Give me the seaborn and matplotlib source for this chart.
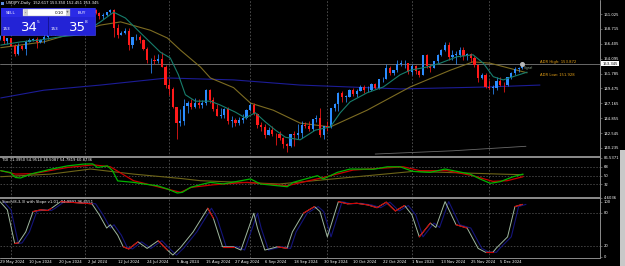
import numpy as np
import pandas as pd
import matplotlib
matplotlib.use("Agg")
import matplotlib.pyplot as plt
import seaborn as sns
from matplotlib.patches import Rectangle, Circle

# ---------------- data ----------------
date_labels = ["29 May 2024", "10 Jun 2024", "20 Jun 2024", "2 Jul 2024", "12 Jul 2024",
               "24 Jul 2024", "5 Aug 2024", "15 Aug 2024", "27 Aug 2024", "6 Sep 2024",
               "18 Sep 2024", "30 Sep 2024", "10 Oct 2024", "22 Oct 2024", "1 Nov 2024",
               "13 Nov 2024", "25 Nov 2024", "5 Dec 2024"]
date_bars = [2, 10, 18, 26, 34, 42, 50, 58, 66, 74, 82, 90, 98, 106, 114, 122, 130, 138]
month_sep_bars = [5, 25, 48, 70, 91, 114, 135]

open_ = [156.94, 156.87, 157.15, 157.63, 156.81, 157.26, 156.10, 154.78, 156.07, 155.62,
         156.74, 157.04, 157.17, 156.69, 157.05, 157.39, 157.73, 157.86, 158.09, 158.88,
         159.78, 159.70, 159.70, 160.77, 160.74, 160.88, 161.47, 161.45, 161.71, 161.23,
         160.73, 160.83, 161.32, 161.64, 158.81, 157.84, 158.08, 158.34, 156.18, 157.38,
         157.47, 156.97, 155.63, 153.87, 153.96, 153.77, 154.01, 152.74, 149.98, 149.35,
         146.53, 144.18, 144.40, 146.71, 147.28, 146.59, 147.19, 146.85, 147.27, 149.31,
         147.61, 146.34, 145.23, 145.28, 146.24, 144.35, 144.54, 144.08, 144.60, 144.95,
         146.17, 146.95, 145.46, 143.74, 143.42, 142.30, 143.10, 142.41, 142.40, 141.82,
         140.86, 140.60, 142.40, 142.30, 142.61, 143.88, 143.62, 143.22, 144.80, 144.82,
         142.19, 143.63, 143.53, 146.42, 146.99, 148.70, 148.19, 148.20, 149.31, 148.59,
         149.14, 149.75, 149.18, 149.23, 150.10, 149.53, 150.87, 151.00, 152.72, 151.83,
         152.28, 153.33, 153.35, 153.37, 152.03, 152.97, 152.15, 151.61, 154.64, 152.95,
         152.63, 153.73, 154.63, 155.47, 156.27, 154.30, 154.67, 154.69, 155.43, 154.53,
         154.79, 154.19, 153.06, 151.10, 151.62, 149.77, 149.58, 149.60, 150.56, 150.04,
         149.98, 151.19, 151.94, 152.46, 152.617]
high = [157.08, 157.25, 157.71, 157.69, 157.30, 157.30, 156.40, 156.45, 156.20, 157.00,
        157.30, 157.35, 157.45, 157.20, 158.25, 157.80, 158.00, 158.15, 158.90, 159.85,
        159.95, 159.85, 160.85, 160.88, 161.28, 161.70, 161.75, 161.95, 161.80, 161.30,
        161.20, 161.40, 161.80, 161.78, 159.45, 158.40, 158.85, 158.85, 157.50, 157.85,
        157.80, 157.20, 155.90, 154.20, 154.60, 154.75, 155.20, 153.05, 150.90, 149.75,
        146.60, 146.30, 147.90, 147.50, 147.80, 148.00, 147.80, 147.70, 149.40, 149.40,
        148.15, 147.00, 146.40, 146.50, 146.60, 145.20, 144.90, 145.00, 145.55, 146.25,
        147.20, 147.20, 145.60, 144.20, 144.00, 143.50, 143.60, 142.60, 142.80, 142.00,
        141.00, 142.40, 142.80, 143.95, 144.50, 144.20, 144.40, 144.80, 145.35, 146.50,
        143.20, 144.50, 146.50, 147.20, 149.00, 149.10, 148.40, 149.40, 149.55, 149.40,
        149.98, 149.95, 149.80, 150.30, 150.30, 150.95, 151.30, 153.20, 152.90, 152.40,
        153.90, 153.90, 153.85, 153.45, 153.20, 153.10, 152.40, 154.70, 154.75, 153.30,
        153.80, 154.75, 155.60, 156.70, 156.75, 155.40, 155.30, 155.90, 155.90, 155.00,
        154.95, 154.45, 153.15, 151.90, 151.90, 150.75, 150.00, 151.25, 151.20, 150.50,
        151.30, 152.00, 152.75, 152.80, 153.350]
low = [156.55, 156.70, 157.00, 156.37, 156.30, 156.00, 154.55, 154.70, 155.45, 154.60,
       156.70, 156.80, 155.72, 156.50, 156.60, 157.10, 157.70, 157.80, 158.00, 158.70,
       159.20, 159.40, 159.70, 160.30, 160.50, 160.80, 161.30, 161.20, 161.10, 160.25,
       160.25, 160.70, 161.20, 157.40, 157.25, 157.70, 157.85, 155.37, 155.70, 157.00,
       156.60, 155.50, 153.50, 151.94, 153.30, 153.40, 152.80, 149.60, 148.50, 146.45,
       141.68, 143.60, 143.80, 145.60, 146.30, 146.50, 146.50, 146.40, 146.90, 147.20,
       145.95, 145.20, 144.90, 144.95, 144.00, 143.45, 143.65, 143.85, 144.10, 144.70,
       146.00, 145.40, 143.40, 142.90, 141.75, 142.20, 142.10, 140.70, 141.50, 140.30,
       139.58, 140.40, 140.50, 141.60, 141.75, 143.30, 142.90, 142.95, 144.30, 142.00,
       141.65, 142.95, 143.40, 145.90, 145.90, 147.40, 147.35, 148.10, 148.30, 148.10,
       149.05, 148.80, 148.90, 149.10, 149.40, 149.40, 150.40, 150.90, 151.60, 151.50,
       152.10, 152.90, 152.60, 151.75, 151.50, 151.70, 151.30, 151.60, 152.60, 152.10,
       152.60, 153.50, 154.50, 155.30, 153.85, 153.90, 153.30, 154.40, 153.90, 153.90,
       153.55, 152.80, 150.45, 151.00, 149.50, 149.45, 148.65, 149.30, 149.90, 148.95,
       149.85, 151.00, 151.55, 152.10, 152.451]
close = [156.87, 157.15, 157.63, 156.81, 157.26, 156.10, 154.78, 156.07, 155.62, 156.74,
         157.04, 157.17, 156.69, 157.05, 157.39, 157.73, 157.86, 158.09, 158.88, 159.78,
         159.70, 159.70, 160.77, 160.74, 160.88, 161.47, 161.45, 161.71, 161.23, 160.73,
         160.83, 161.32, 161.64, 158.81, 157.84, 158.08, 158.34, 156.18, 157.38, 157.47,
         156.97, 155.63, 153.87, 153.96, 153.77, 154.01, 152.74, 149.98, 149.35, 146.53,
         144.18, 144.40, 146.71, 147.28, 146.59, 147.19, 146.85, 147.27, 149.31, 147.61,
         146.34, 145.23, 145.28, 146.24, 144.35, 144.54, 144.08, 144.60, 144.95, 146.17,
         146.95, 145.46, 143.74, 143.42, 142.30, 143.10, 142.41, 142.40, 141.82, 140.86,
         140.60, 142.40, 142.30, 142.61, 143.88, 143.62, 143.22, 144.80, 144.82, 142.19,
         143.63, 143.53, 146.42, 146.99, 148.70, 148.19, 148.20, 149.31, 148.59, 149.14,
         149.75, 149.18, 149.23, 150.10, 149.53, 150.87, 151.00, 152.72, 151.83, 152.28,
         153.33, 153.35, 153.37, 152.03, 152.97, 152.15, 151.61, 154.64, 152.95, 152.63,
         153.73, 154.63, 155.47, 156.27, 154.30, 154.67, 154.69, 155.43, 154.53, 154.79,
         154.19, 153.06, 151.10, 151.62, 149.77, 149.58, 149.60, 150.56, 150.04, 149.98,
         151.19, 151.94, 152.46, 152.61, 153.345]

# moving averages (bar position, price)
fast_ma_bars = [2.2, 7.6, 13, 18.5, 23.9, 29.3, 32.9, 36.1, 40.2, 45.6, 48.3, 50.5, 52.4, 55.1,
                59.2, 61.9, 66, 68.7, 71.4, 74.1, 76.9, 79.6, 83.6, 87.7, 91.8, 94.5, 97.2,
                101.8, 106.2, 110.8, 113.5, 118.1, 121.7, 126.3, 130.6, 133.4, 136.1, 138.8,
                141.5, 145.3]
fast_ma = [156.2, 156.7, 157.0, 157.5, 157.8, 159.8, 161.3, 160.4, 158.1, 155.1, 154.2, 151.6,
           148.5, 147.5, 147.5, 146.9, 145.8, 144.9, 145.7, 144.3, 143.0, 141.9, 141.5, 143.0,
           143.5, 145.7, 147.4, 148.8, 149.7, 151.6, 152.3, 152.8, 153.4, 154.4, 154.7, 153.4,
           151.3, 150.8, 151.3, 152.0]
mid_ma_bars = [2.2, 13.9, 24.7, 29.3, 34.8, 42.9, 47.5, 51.1, 56.5, 59.2, 65.5, 70.1, 76.3,
               83.6, 91.8, 101.8, 113.5, 124.4, 130.6, 135.2, 139.9, 145.3]
mid_ma = [155.8, 156.7, 158.5, 159.3, 159.8, 158.5, 157.3, 155.4, 152.8, 151.1, 149.6, 147.2,
          146.1, 144.1, 143.5, 146.1, 149.7, 152.3, 153.6, 153.4, 152.7, 151.9]
slow_ma_bars = [2.2, 13.9, 29.3, 47.5, 65.5, 83.6, 110.8, 134.4, 148.8]
slow_ma = [148.0, 149.2, 150.0, 151.1, 150.8, 150.0, 149.4, 149.7, 150.0]
low_line_bars = [104, 125, 145]
low_line = [139.3, 139.8, 140.5]

price_ticks = [161.025, 158.715, 156.405, 154.095, 151.785, 149.475, 147.165, 144.855,
               142.545, 140.235]
bid = 153.345
adr_high = 153.872
adr_low = 151.928

# TDI
tdi_green_bars = [2.2, 4.9, 6.2, 7.6, 10.3, 15.8, 20.4, 24.7, 27.2, 28.5, 31.2, 32.6, 34, 38.3,
                  41, 44.8, 47.5, 50.2, 51.6, 53.8, 57.3, 59.2, 62.7, 70.1, 72.8, 80.1, 81.7,
                  88.3, 89.9, 93.7, 97.2, 103.5, 107.3, 110.8, 114.3, 118.9, 123, 126.3, 129.8,
                  132.5, 135.3, 138, 141.5, 144.2]
tdi_green = [60, 56, 46, 45, 53, 63, 70, 73.6, 74, 66.7, 70, 60, 39, 36, 32.7, 29, 22.4, 14,
             15.5, 25.7, 32.7, 36, 32.7, 43, 32.7, 27, 36, 49.7, 43, 56.5, 63.4, 63, 68, 68,
             58.5, 56.5, 63.4, 58.5, 53, 43, 34, 37.4, 47.6, 53]
tdi_red_bars = [2.2, 6.2, 11.1, 20.4, 27.4, 32, 38.3, 47.5, 51.1, 54, 60, 69.2, 80, 89.9, 98,
                111.6, 116.2, 123.6, 130.6, 136, 139.9, 144.2]
tdi_red = [60, 53, 54, 66.7, 72, 68, 39.4, 22, 15.5, 25.7, 31, 36, 29, 46, 61.3, 68, 60, 60,
           49.7, 38, 39.4, 47.6]
tdi_base_bars = [2.2, 15.8, 26.6, 38.3, 51.1, 56.5, 78, 114.3, 138, 144.2]
tdi_base = [47.6, 53, 63.4, 53, 44, 39.4, 32.7, 58.5, 53, 51.7]
tdi_levels = [68, 50, 32]
tdi_range = (4.6036, 86.5371)

# Stochastic
stoch_bars = [2, 4, 6, 7, 9, 11, 13, 15, 16, 18.5, 25, 27, 29, 31, 32, 34, 35.5, 37, 39.5, 42,
              45, 47.5, 49, 51, 54.5, 58.5, 60, 62.5, 65.5, 67.5, 71, 72, 74, 77.5, 80, 81.5,
              84.5, 87.5, 89, 91, 94, 96.5, 99, 102, 104.5, 107, 109.5, 112, 114, 116, 119,
              120.5, 123, 126, 129, 132, 134, 136, 137, 140, 142, 144]
stoch_main = [100, 85, 24, 25, 45, 82, 85, 84, 88, 100, 97, 96, 76, 52, 58, 39, 18, 14, 27, 15,
              29, 12, 3, 16, 45, 88, 70, 18, 18, 12, 79, 52, 12, 18, 15, 45, 79, 91, 82, 36,
              100, 96, 97, 94, 89, 99, 83, 93, 76, 36, 61, 53, 100, 58, 52, 15, 8, 8, 16, 36,
              91, 95]
stoch_red_seg = [0, 0, 1, 0, 0, 1, 1, 1, 0, 1, 1, 0, 0, 0, 0, 0, 1, 1, 0, 0,
                 1, 0, 0, 0, 0, 1, 0, 1, 0, 0, 0, 0, 0, 1, 0, 0, 1, 0, 0, 0,
                 1, 1, 1, 1, 1, 1, 1, 0, 0, 1, 0, 0, 0, 1, 0, 0, 1, 0, 0, 0,
                 1, 0]
stoch_levels = [80, 20]
stoch_ticks = [100, 80, 20, 0]

# ---------------- style ----------------
sns.set_style("dark", {"axes.facecolor": "black", "figure.facecolor": "black"})
plt.rcParams['font.family'] = ['DejaVu Sans']

W, H = 625, 266
BULL, BEAR = "#2b8cff", "#ff1a1a"
GRIDC = "#5c5c5c"
SEPC = "#8c8c8c"
FS = 2.7

fig = plt.figure(figsize=(W / 100, H / 100), dpi=100, facecolor="black")


def box(top, bottom):
    return [0, 1 - bottom / H, 600 / W, (bottom - top) / H]


ax = fig.add_axes(box(0, 156.5))
ax2 = fig.add_axes(box(157.8, 197.6), sharex=ax)
ax3 = fig.add_axes(box(199.2, 257.5), sharex=ax)

x0_bar = (0 + 8) / 3.682
x1_bar = (600 + 8) / 3.682
for a in (ax, ax2, ax3):
    a.set_facecolor("black")
    a.grid(False)
    for s in a.spines.values():
        s.set_visible(False)
    a.tick_params(axis="x", bottom=False, labelbottom=False)
    a.yaxis.tick_right()
    a.tick_params(axis="y", right=True, length=1.5, width=0.4, color="#9a9a9a",
                  labelsize=FS, labelcolor="white", pad=1.2)
    for b in month_sep_bars:
        a.axvline(b, color=GRIDC, lw=0.55, ls=(0, (2.2, 2.2)), zorder=0)

ax.set_xlim(x0_bar, x1_bar)

# ---- main price panel ----
o = np.array(open_); h = np.array(high); l = np.array(low); c = np.array(close)
idx = np.arange(len(c))
up = c >= o
cols = np.where(up, BULL, BEAR)
ax.set_ylim(161.025 - (156.5 - 14) * 0.15515, 161.025 + 14 * 0.15515)
ax.axhline(bid, color="#7a7a7a", lw=0.6, zorder=1)
ax.vlines(idx, l, h, colors=cols, lw=0.55, zorder=3)
body = np.maximum(np.abs(c - o), 0.08)
ax.bar(idx, body, bottom=np.minimum(o, c), width=0.6, color=cols, linewidth=0, zorder=4)

sns.lineplot(x=slow_ma_bars, y=slow_ma, ax=ax, color="#1c1c96", lw=0.8, legend=False, zorder=2)
sns.lineplot(x=mid_ma_bars, y=mid_ma, ax=ax, color="#7d6c22", lw=0.8, legend=False, zorder=2)
sns.lineplot(x=fast_ma_bars, y=fast_ma, ax=ax, color="#177d6c", lw=0.8, legend=False, zorder=5)
sns.lineplot(x=low_line_bars, y=low_line, ax=ax, color="#6a6a6a", lw=0.6, legend=False, zorder=2)
ax.set_yticks(price_ticks)
ax.set_yticklabels([f"{v:.3f}" for v in price_ticks])
ax.set_ylabel(""); ax.set_xlabel("")

# last price marker + ADR labels
ax.plot([len(c) - 1], [bid], marker="o", ms=2.6, color="#b8b8b8", zorder=6)
ax.text(len(c) - 0.6, bid - 0.7, "Signal", color="#8fa88f", fontsize=2.2, va="center", ha="left")
ax.text(148.8, adr_high, f"ADR High: {adr_high:.3f}", color="#e8a317", fontsize=FS,
        va="top", ha="left")
ax.text(148.8, adr_low, f"ADR Low: {adr_low:.3f}", color="#e8a317", fontsize=FS,
        va="top", ha="left")
ax.text(x1_bar + 0.6, bid, f"{bid:.3f}", fontsize=FS, color="black", va="center", ha="left",
        bbox=dict(boxstyle="square,pad=0.25", fc="white", ec="none"), clip_on=False, zorder=10)

# ---- TDI panel ----
ax2.set_ylim(*tdi_range)
for lv in tdi_levels:
    ax2.axhline(lv, color=GRIDC, lw=0.5, ls=(0, (2.2, 2.2)), zorder=0)
sns.lineplot(x=tdi_base_bars, y=tdi_base, ax=ax2, color="#6e6518", lw=0.8, legend=False)
sns.lineplot(x=tdi_red_bars, y=tdi_red, ax=ax2, color="#c80000", lw=0.9, legend=False)
sns.lineplot(x=tdi_green_bars, y=tdi_green, ax=ax2, color="#00b400", lw=0.9, legend=False)
ax2.set_yticks([tdi_range[1]] + tdi_levels + [tdi_range[0]])
ax2.set_yticklabels([f"{tdi_range[1]:.4f}", "68", "50", "32", f"{tdi_range[0]:.4f}"])
ax2.set_ylabel(""); ax2.set_xlabel("")
ax2.text(0.004, 0.985, "TDI 71.3950 54.9514 38.5087 54.7819 60.8736", transform=ax2.transAxes,
         color="white", fontsize=FS, va="top", ha="left")

# ---- Stochastic panel ----
ax3.set_ylim(-1.5, 104.4)
for lv in stoch_levels:
    ax3.axhline(lv, color=GRIDC, lw=0.5, ls=(0, (2.2, 2.2)), zorder=0)
sb = np.array(stoch_bars, dtype=float); sv = np.array(stoch_main, dtype=float)
sns.lineplot(x=sb + 1.0, y=sv, ax=ax3, color="#14147a", lw=0.8, legend=False, zorder=2)
sns.lineplot(x=sb, y=sv, ax=ax3, color="#9fb89f", lw=0.7, legend=False, zorder=3)
for k, r in enumerate(stoch_red_seg[:-1]):
    if r:
        ax3.plot(sb[k:k + 2], sv[k:k + 2], color="#d00000", lw=0.8, zorder=4)
ax3.set_yticks(stoch_ticks)
ax3.set_yticklabels([str(t) for t in stoch_ticks])
ax3.set_ylabel(""); ax3.set_xlabel("")
ax3.text(0.004, 0.985, "Stoch(8,3,3) with Slope v1.01  94.9992 96.6551", transform=ax3.transAxes,
         color="white", fontsize=FS, va="top", ha="left")

# date labels under the last panel
ax3.set_xticks(date_bars)
ax3.set_xticklabels(date_labels)
ax3.tick_params(axis="x", bottom=False, labelbottom=True, length=0,
                labelsize=FS, labelcolor="white", pad=2.0)
for t in ax3.get_xticklabels():
    t.set_horizontalalignment("left")

# ---------------- overlay (frame, separators, trade panel) ----------------
ov = fig.add_axes([0, 0, 1, 1], zorder=20)
ov.set_xlim(0, W); ov.set_ylim(H, 0); ov.axis("off"); ov.patch.set_alpha(0)
ov.plot([0, 600], [157.1, 157.1], color=SEPC, lw=1.4)
ov.plot([0, 600], [198.4, 198.4], color=SEPC, lw=1.4)
ov.plot([0, 600], [257.9, 257.9], color=SEPC, lw=0.7)
ov.plot([600, 600], [0, 257.9], color=SEPC, lw=0.7)
ov.add_patch(Rectangle((620, 150), 5, 116, fc="#c8c8c8", ec="none"))

# title
ov.add_patch(Rectangle((1, 1.5), 3, 3, fc="#5a8ad8", ec="none"))
ov.text(5.5, 3.2, "USDJPY,Daily  152.617 153.350 152.451 153.345", color="white",
        fontsize=FS, va="center", ha="left")

# one-click trading panel
ov.add_patch(Rectangle((1, 8), 94, 27, fc="#2323d6", ec="#4848ff", lw=0.4))
ov.add_patch(Rectangle((1, 8), 94, 9, fc="#2a2ae6", ec="none"))
ov.plot([47.5, 47.5], [17, 35], color="#12128c", lw=0.6)
ov.add_patch(Rectangle((23, 8.6), 47, 7.6, fc="white", ec="#9a9a9a", lw=0.3))
ov.add_patch(Rectangle((23.5, 9.1), 4, 6.6, fc="#d0d0d0", ec="none"))
ov.add_patch(Rectangle((65.5, 9.1), 4, 6.6, fc="#d0d0d0", ec="none"))
ov.text(25.5, 12.4, "-", color="black", fontsize=2.4, ha="center", va="center")
ov.text(67.5, 12.4, "+", color="black", fontsize=2.4, ha="center", va="center")
ov.text(63.5, 12.6, "0.10", color="black", fontsize=3.0, ha="right", va="center")
ov.text(6, 12.6, "SELL", color="white", fontsize=3.0, ha="left", va="center")
ov.text(78, 12.6, "BUY", color="white", fontsize=3.0, ha="left", va="center")
ov.text(3, 29.5, "153", color="white", fontsize=3.0, ha="left", va="center")
ov.text(20.5, 27.5, "34", color="white", fontsize=9.5, ha="left", va="center")
ov.text(36.5, 22.0, "5", color="white", fontsize=3.2, ha="left", va="center")
ov.text(51, 29.5, "153", color="white", fontsize=3.0, ha="left", va="center")
ov.text(68.5, 27.5, "35", color="white", fontsize=9.5, ha="left", va="center")
ov.text(84.5, 22.0, "8", color="white", fontsize=3.2, ha="left", va="center")

fig.savefig("out.png", dpi=100, facecolor="black")
